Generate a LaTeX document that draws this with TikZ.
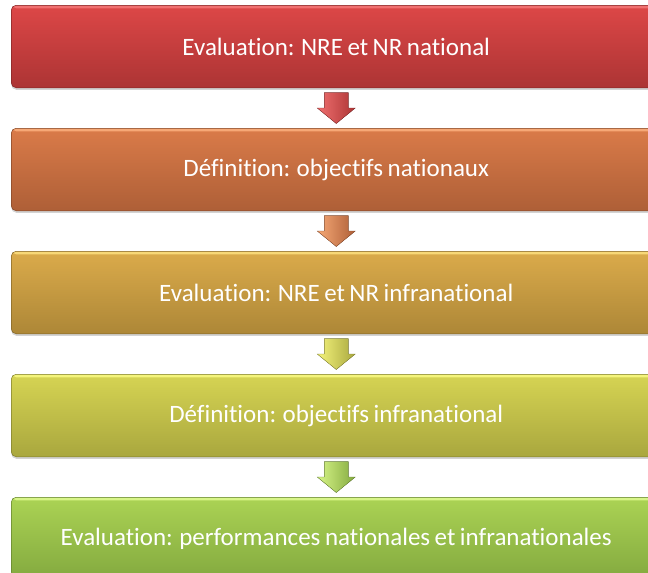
\documentclass[tikz,border=0pt]{standalone}
\usepackage{fontspec}
\setmainfont{Carlito}[Ligatures=NoCommon,WordSpace=0.8]
\usetikzlibrary{positioning,calc,shadows}

\definecolor{redtop}{HTML}{DD4747}
\definecolor{redbot}{HTML}{AC3434}
\definecolor{redhi}{HTML}{F07070}
\definecolor{oratop}{HTML}{DA7B49}
\definecolor{orabot}{HTML}{AE5F37}
\definecolor{orahi}{HTML}{F6A876}
\definecolor{goltop}{HTML}{DBAB4B}
\definecolor{golbot}{HTML}{AD8737}
\definecolor{golhi}{HTML}{F8D878}
\definecolor{yeltop}{HTML}{D6D453}
\definecolor{yelbot}{HTML}{A9A73E}
\definecolor{yelhi}{HTML}{F4F47C}
\definecolor{grntop}{HTML}{ABD354}
\definecolor{grnbot}{HTML}{83A93F}
\definecolor{grnhi}{HTML}{D8F588}

\tikzset{
  stage/.style n args={3}{draw=#2!75!black, line width=0.5pt, rounded corners=5pt,
    top color=#1, bottom color=#2, minimum width=650pt, minimum height=82.5pt,
    inner sep=0pt, text=white, font=\fontsize{25}{29}\selectfont,
    drop shadow={shadow xshift=0pt,shadow yshift=-2pt,opacity=.35},
    path picture={\fill[#3] (path picture bounding box.north west) rectangle
      ([yshift=-3pt]path picture bounding box.north east);}},
}

\newcommand{\stagearrow}[3]{%
  \fill[left color=#2, right color=#3, draw=#3!80!black, line width=0.3pt]
    ([shift={(-12pt,15.5pt)}]#1) -- ([shift={(12pt,15.5pt)}]#1)
    -- ([shift={(12pt,0pt)}]#1) -- ([shift={(19pt,0pt)}]#1)
    -- ([shift={(0pt,-15.5pt)}]#1) -- ([shift={(-19pt,0pt)}]#1)
    -- ([shift={(-12pt,0pt)}]#1) -- cycle;}

\begin{document}
\begin{tikzpicture}[x=1pt,y=1pt]
  \useasboundingbox (0,0) rectangle (648,-573);
  \clip (0,0) rectangle (648,-573);

  \node[stage={redtop}{redbot}{redhi}, anchor=north west] (e1) at (11,-5) {Evaluation: NRE et NR national};
  \node[stage={oratop}{orabot}{orahi}, below=40pt of e1] (e2) {Définition: objectifs nationaux};
  \node[stage={goltop}{golbot}{golhi}, below=40pt of e2] (e3) {Evaluation: NRE et NR infranational};
  \node[stage={yeltop}{yelbot}{yelhi}, below=40pt of e3] (e4) {Définition: objectifs infranational};
  \node[stage={grntop}{grnbot}{grnhi}, below=40pt of e4] (e5) {Evaluation: performances nationales et infranationales};

  \coordinate (a1) at ($(e1.south)!.5!(e2.north)$);
  \coordinate (a2) at ($(e2.south)!.5!(e3.north)$);
  \coordinate (a3) at ($(e3.south)!.5!(e4.north)$);
  \coordinate (a4) at ($(e4.south)!.5!(e5.north)$);

  \stagearrow{a1}{redhi}{redbot}
  \stagearrow{a2}{orahi}{orabot}
  \stagearrow{a3}{yelhi}{yelbot}
  \stagearrow{a4}{grnhi}{grnbot}
\end{tikzpicture}
\end{document}
